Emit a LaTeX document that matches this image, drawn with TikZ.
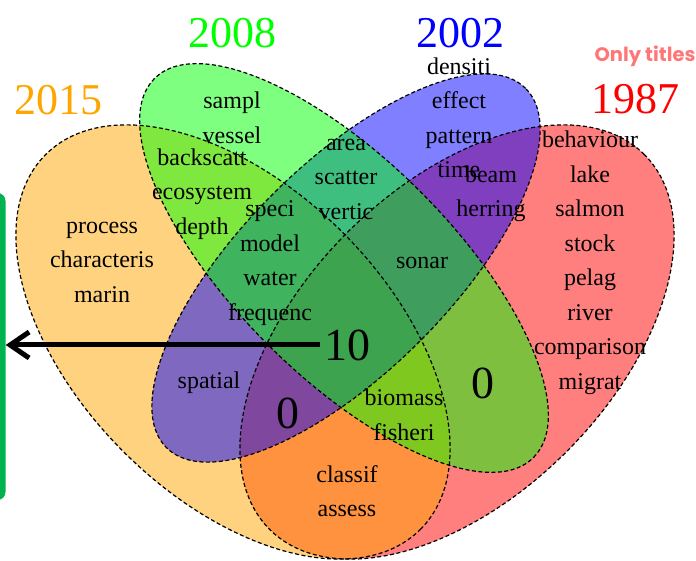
\documentclass[tikz,border=0pt]{standalone}
\usepackage{fontspec}
\setmainfont{Liberation Serif}
\newfontfamily\notefont{Poppins}
\usetikzlibrary{arrows.meta}
\definecolor{vorange}{RGB}{255,165,0}
\definecolor{vgreen}{RGB}{0,255,0}
\definecolor{vblue}{RGB}{0,0,255}
\definecolor{vred}{RGB}{255,0,0}
\definecolor{barfill}{RGB}{0,178,80}
\definecolor{notecolor}{RGB}{255,118,118}
\tikzset{
  venn/.style={
    fill opacity=0.5
  },
  outline/.style={
    draw=black,
    dash pattern=on 4pt off 2.5pt,
    line width=1.2pt
  },
  words/.style={
    font=\fontsize{24}{34.5}\selectfont,
    align=center,
    inner sep=0pt
  },
  year/.style={
    font=\fontsize{44}{44}\selectfont,
    inner sep=0pt
  },
  count/.style={
    font=\fontsize{46}{46}\selectfont
  },
  sidebar/.style={
    fill=barfill,
    rounded corners=8pt,
    minimum width=30pt,
    minimum height=307pt
  },
  pointer/.style={
    -{Straight Barb[length=19pt,width=26pt]},
    line width=5pt
  }
}

\begin{document}
\begin{tikzpicture}[x=1pt,y=1pt]
    \useasboundingbox (0,0) rectangle (696,561);
    % ellipses: x/y/a/b/angle/colour
    \foreach \x/\y/\a/\b/\r/\col in {457/219/265/155/45/vred,233/219/265/155/-45/vorange,346/293/254/104/45/vblue,344/293/268/108/-45/vgreen}{
        \path[venn,fill=\col] (\x,\y) ellipse [x radius=\a, y radius=\b, rotate=\r];
    }
    \foreach \x/\y/\a/\b/\r in {457/219/265/155/45,233/219/265/155/-45,346/293/254/104/45,344/293/268/108/-45}{
        \path[outline] (\x,\y) ellipse [x radius=\a, y radius=\b, rotate=\r];
    }

    \node[year,text=vorange] (y2015) at (58,461) {2015};
    \node[year,text=vgreen] (y2008) at (232,528) {2008};
    \node[year,text=vblue] (y2002) at (460,528) {2002};
    \node[year,text=vred] (y1987) at (635,462) {1987};
    \node[text=notecolor,font=\notefont\bfseries\fontsize{19.5}{19.5}\selectfont,inner sep=0pt] (note) at (645,505) {Only titles};

    \node[words] (g) at (232,443) {sampl\\vessel};
    \node[words] (og) at (202,367) {backscatt\\ecosystem\\depth};
    \node[words] (o) at (102,299) {process\\characteris\\marin};
    \node[words] (gb) at (346,382) {area\\scatter\\vertic};
    \node[words] (b) at (459,443) {densiti\\effect\\pattern\\time};
    \node[words] (br) at (491,367) {beam\\herring};
    \node[words] (r) at (590,298) {behaviour\\lake\\salmon\\stock\\pelag\\river\\comparison\\migrat};
    \node[words] (ogb) at (270,298) {speci\\model\\water\\frequenc};
    \node[words] (gbr) at (422,298) {sonar};
    \node[words] (ob) at (209,178) {spatial};
    \node[words] (ogr) at (404,146) {biomass\\fisheri};
    \node[words] (or) at (347,70) {classif\\assess};
    \node[count] (ten) at (347,216) {10};
    \node[count] (obr) at (288,148) {0};
    \node[count] (gr) at (483,178) {0};

    \node[sidebar] (bar) at (-9.5,214.5) {};
    \draw[pointer] (ten.west) -- (ten.west -| bar.east);
\end{tikzpicture}
\end{document}
